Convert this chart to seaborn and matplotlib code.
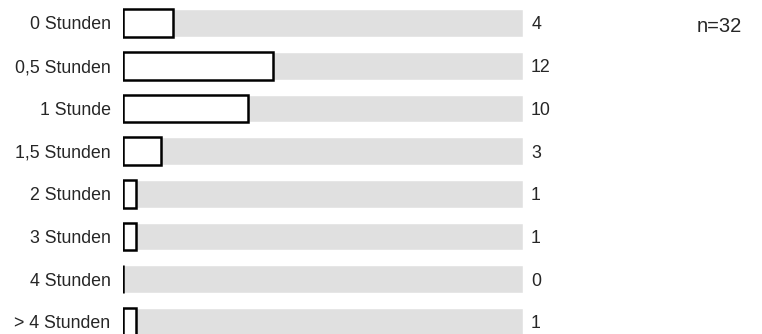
import pandas as pd
import seaborn as sns
import matplotlib.pyplot as plt

# Data
categories = ['0 Stunden', '0,5 Stunden', '1 Stunde', '1,5 Stunden',
              '2 Stunden', '3 Stunden', '4 Stunden', '> 4 Stunden']
counts = [4, 12, 10, 3, 1, 1, 0, 1]
n_total = 32

df = pd.DataFrame({'category': categories, 'count': counts})
df['total'] = n_total

sns.set_style('white')
plt.rcParams['font.family'] = ['Liberation Sans', 'DejaVu Sans']

fig = plt.figure(figsize=(7.62, 3.34), dpi=100)
ax = fig.add_axes([123 / 762, 0, 400 / 762, 1])

# Background bars (full n)
sns.barplot(data=df, x='total', y='category', color='#e0e0e0', width=0.65,
            ax=ax, orient='h', saturation=1)
# Value bars
sns.barplot(data=df, x='count', y='category', color='white', width=0.65,
            edgecolor='black', linewidth=1.8, ax=ax, orient='h', saturation=1)

for i, v in enumerate(counts):
    ax.text(n_total + 0.65, i, str(v), va='center_baseline', ha='left', fontsize=12.8)

ax.set_xlim(0, n_total)
ax.set_ylim(7.282, -0.5385)
ax.set_xlabel('')
ax.set_ylabel('')
ax.set_xticks([])
ax.tick_params(axis='y', length=0, pad=9, labelsize=12.8)
for lbl in ax.get_yticklabels():
    lbl.set_verticalalignment('center_baseline')
sns.despine(ax=ax, left=True, bottom=True)

fig.text(697 / 762, 1 - 25 / 334, f'n={n_total}', ha='left', va='center_baseline', fontsize=14.5)

plt.savefig('out.png', dpi=100)
